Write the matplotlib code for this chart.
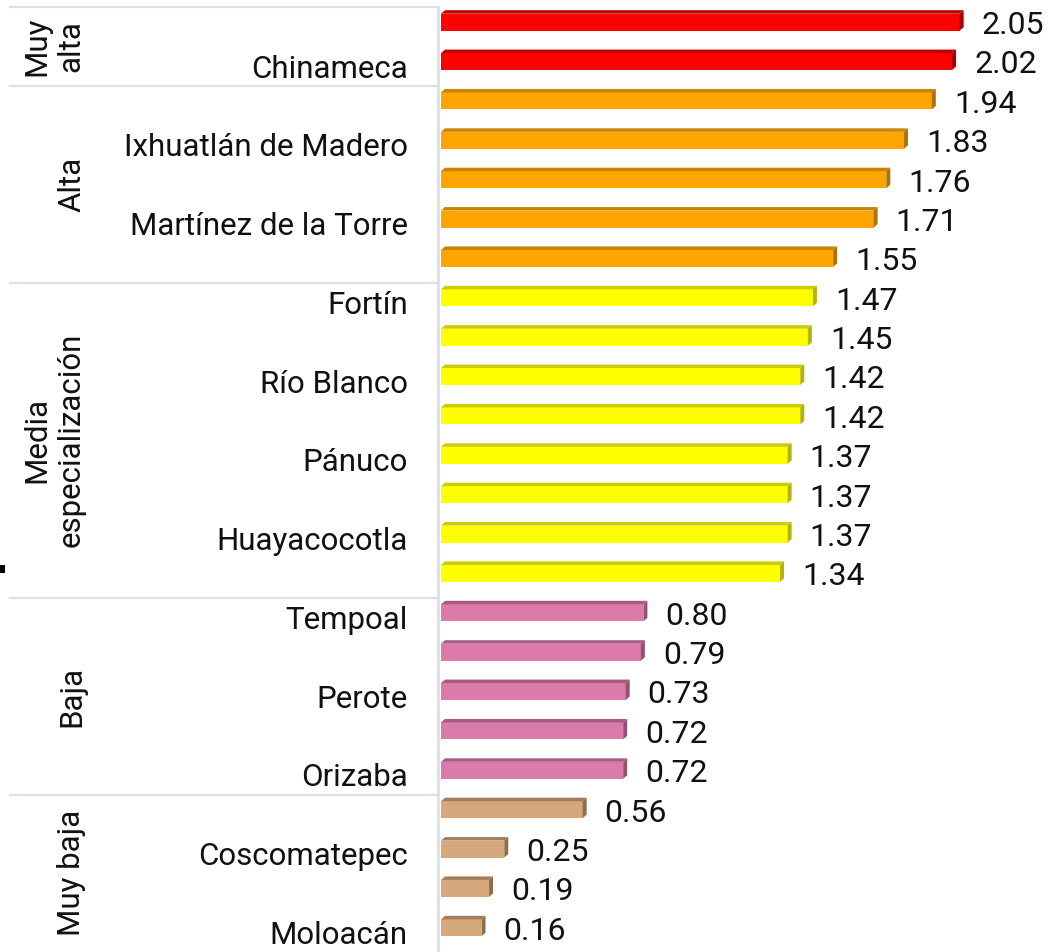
import matplotlib
matplotlib.use("Agg")
import matplotlib.pyplot as plt
from matplotlib.patches import Polygon, Rectangle
from matplotlib.lines import Line2D
import matplotlib.transforms as mtransforms

# ---------------- data ----------------
values = [2.05, 2.02, 1.94, 1.83, 1.76, 1.71, 1.55, 1.47, 1.45, 1.42, 1.42,
          1.37, 1.37, 1.37, 1.34, 0.80, 0.79, 0.73, 0.72, 0.72, 0.56, 0.25,
          0.19, 0.16]
shown_labels = ["Chinameca", "Ixhuatlán de Madero", "Martínez de la Torre",
                "Fortín", "Río Blanco", "Pánuco", "Huayacocotla", "Tempoal",
                "Perote", "Orizaba", "Coscomatepec", "Moloacán"]
shown_positions = [1, 3, 5, 7, 9, 11, 13, 15, 17, 19, 21, 23]
group_names = ["Muy\nalta", "Alta", "Media\nespecialización", "Baja", "Muy baja"]
group_sizes = [2, 5, 8, 5, 4]

# styles (front, top, side) per group
group_colors = [("#FF0000", "#C00000", "#A80000"),
                ("#FFA500", "#C98400", "#B07200"),
                ("#FFFF00", "#CCCC00", "#B4B400"),
                ("#DB7BA9", "#A95C82", "#955073"),
                ("#D6A77A", "#A57D56", "#8F6C4A")]

plt.rcParams["font.family"] = ["Roboto", "DejaVu Sans"]
FS = 22.5
FS_VAL = 23

W, H = 1048, 952
fig = plt.figure(figsize=(W / 100, H / 100), dpi=100)
ax_left_px, ax_top_px = 437, 7
ax = fig.add_axes([ax_left_px / W, 0, (W - ax_left_px) / W, (H - ax_top_px) / H])

scale = 253.0  # px per unit
zero_px = 441
ax.set_xlim(-(zero_px - ax_left_px) / scale, (W - zero_px) / scale)
ax.set_ylim(23.5, -0.5)

dx = 4 / scale          # 3D depth along x
dy = 3.5 / 39.4         # 3D depth along y (data units)
face_h = 0.43
face_off = -0.115       # face centre relative to category centre

bar_colors = []
for name, n, cols in zip(group_names, group_sizes, group_colors):
    bar_colors += [cols] * n

ys = list(range(len(values)))
ax.barh([y + face_off for y in ys], values, height=face_h,
        color=[c[0] for c in bar_colors], edgecolor="none", zorder=3)

for y, v, cols in zip(ys, values, bar_colors):
    top = y + face_off - face_h / 2
    bot = y + face_off + face_h / 2
    ax.add_patch(Polygon([(0, top), (v, top), (v + dx, top - dy), (dx, top - dy)],
                         closed=True, facecolor=cols[1], edgecolor="none", zorder=3))
    ax.add_patch(Polygon([(v, top), (v + dx, top - dy), (v + dx, bot - dy), (v, bot)],
                         closed=True, facecolor=cols[2], edgecolor="none", zorder=3))
    ax.text(v + dx + 18 / scale, y - 0.03, f"{v:.2f}", ha="left", va="center",
            fontsize=FS_VAL, color="#111111")

ax.set_yticks(shown_positions)
ax.set_yticklabels(shown_labels, fontsize=FS, color="#111111")
ax.tick_params(axis="y", length=0, pad=21)
ax.set_xticks([])
for s in ax.spines.values():
    s.set_visible(False)

# group separators and labels
sep_color = "#DCE0E5"
trans = mtransforms.blended_transform_factory(fig.transFigure, ax.transData)
boundaries = [-0.5]
acc = -0.5
for n in group_sizes:
    acc += n
    boundaries.append(acc)
for b in boundaries[:-1]:
    fig.add_artist(Line2D([10 / W, ax_left_px / W], [b, b], transform=trans,
                          color=sep_color, lw=1.6))
fig.add_artist(Line2D([(ax_left_px + 1) / W, (ax_left_px + 1) / W], [-0.5, 23.5],
                      transform=trans, color=sep_color, lw=2.0))

for i, name in enumerate(group_names):
    yc = (boundaries[i] + boundaries[i + 1]) / 2
    xpx = 54 if "\n" in name else 72
    fig.text(xpx / W, yc, name, transform=trans, rotation=90, ha="center",
             va="center", multialignment="center", fontsize=FS, color="#111111",
             linespacing=1.2)

# small mark on the left edge
fig.add_artist(Rectangle((0, 1 - 573 / H), 5 / W, 8 / H, transform=fig.transFigure,
                         facecolor="#000000", edgecolor="none"))

fig.savefig("out.png", dpi=100, facecolor="white")
